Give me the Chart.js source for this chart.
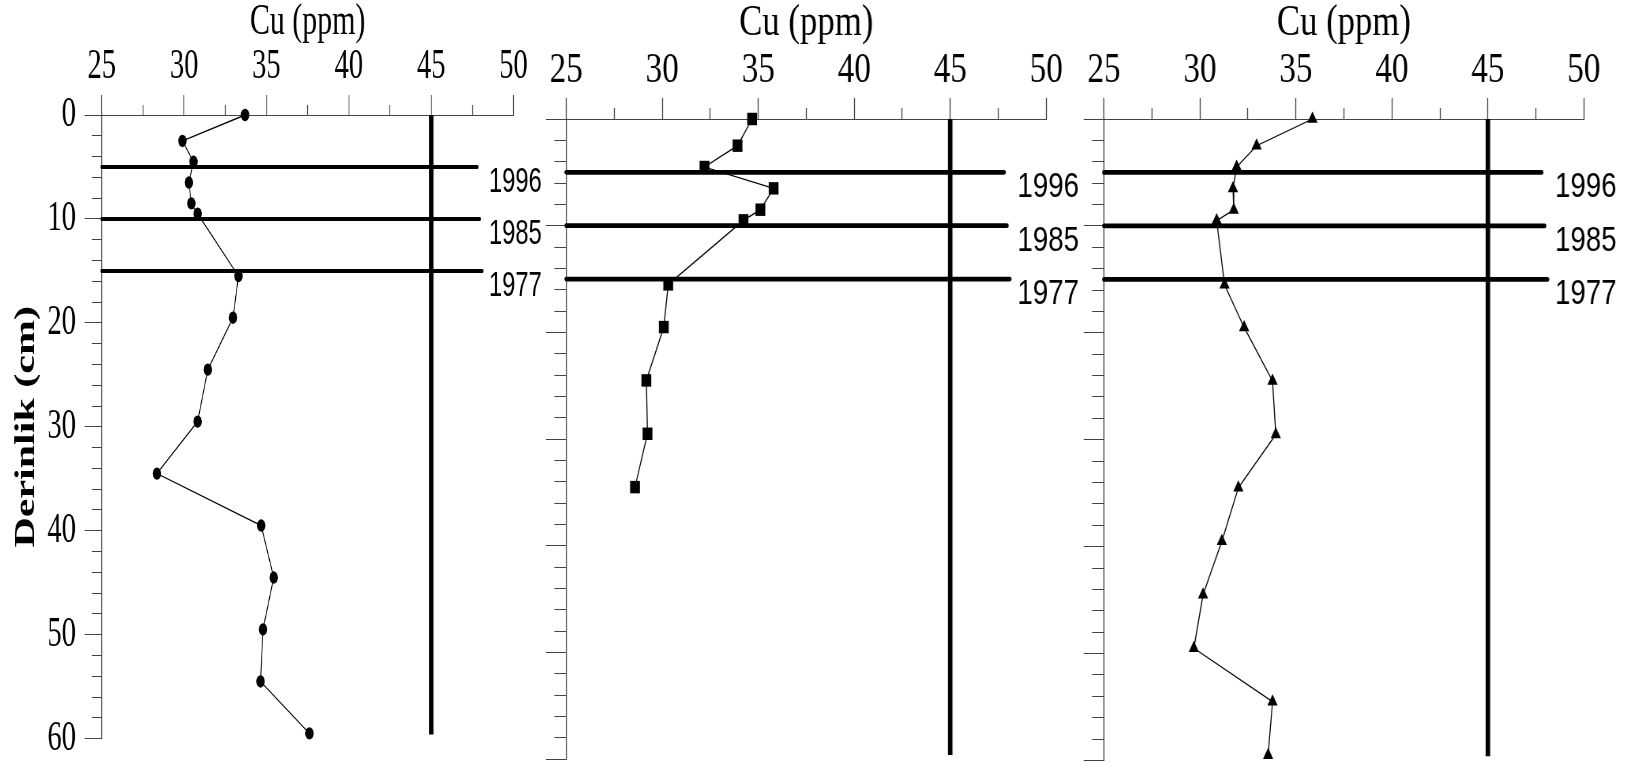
<!DOCTYPE html>
<html><head><meta charset="utf-8">
<script src="https://cdn.jsdelivr.net/npm/chart.js@4"></script>
<style>
html,body{margin:0;padding:0;background:#fff;width:1631px;height:768px;overflow:hidden;position:relative}
canvas{position:absolute;top:0}
</style></head><body>
<canvas id="c1"></canvas><canvas id="c2"></canvas><canvas id="c3"></canvas>
<script>
// ---------- data ----------
const cuTitle = 'Cu (ppm)';
const depthTitle = 'Derinlik (cm)';
const cuTickLabels = [25, 30, 35, 40, 45, 50];
const depthTickLabels = [0, 10, 20, 30, 40, 50, 60];

const depth1 = [0, 2.5, 4.5, 6.5, 8.5, 9.5, 15.5, 19.5, 24.5, 29.5, 34.5, 39.5, 44.5, 49.5, 54.5, 59.5];
const cu1    = [33.7, 29.9, 30.57, 30.29, 30.44, 30.82, 33.3, 32.97, 31.44, 30.82, 28.35, 34.68, 35.44, 34.79, 34.64, 37.61];

const depth2 = [0, 2.5, 4.5, 6.5, 8.5, 9.5, 15.5, 19.5, 24.5, 29.5, 34.5];
const cu2    = [34.68, 33.92, 32.2, 35.8, 35.11, 34.23, 30.31, 30.08, 29.17, 29.23, 28.58];

const depth3 = [0, 2.5, 4.5, 6.5, 8.5, 9.5, 15.5, 19.5, 24.5, 29.5, 34.5, 39.5, 44.5, 49.5, 54.5, 59.5];
const cu3    = [35.86, 32.95, 31.91, 31.72, 31.76, 30.87, 31.28, 32.3, 33.78, 33.95, 32.0, 31.14, 30.16, 29.68, 33.78, 33.55];

const yearLabels = ['1996', '1985', '1977'];
const yearDepths = [5, 10, 15];
const yearLineEnds = [47.8, 47.95, 48.1];
const yearLabelCu = 48.5;
const limitCu = 45;
const limitDepthEnd = 59.6;

// ---------- plugin for the year labels ----------
const yearLabelPlugin = {
  id: 'yearLabels',
  afterDatasetsDraw(chart) {
    const {ctx, scales: {x, y}} = chart;
    ctx.save();
    ctx.font = '35px "Liberation Sans", Arial, sans-serif';
    ctx.fillStyle = '#000';
    ctx.textAlign = 'left';
    ctx.textBaseline = 'alphabetic';
    yearLabels.forEach((t, i) => {
      ctx.fillText(t, x.getPixelForValue(yearLabelCu), y.getPixelForValue(yearDepths[i]) + 25);
    });
    ctx.restore();
  }
};

const SERIF = '"Liberation Serif", "Times New Roman", serif';

function makePanel(id, p) {
  const cv = document.getElementById(id);
  cv.width = p.wi; cv.height = 768;
  cv.style.left = p.left + 'px';
  cv.style.width = (p.wi * p.sx) + 'px';
  cv.style.height = '768px';

  const datasets = [{
    data: p.cu.map((v, i) => ({x: v, y: p.depth[i]})),
    showLine: true, borderColor: '#000', borderWidth: 1.3,
    pointStyle: p.ps, pointRadius: p.pr, pointBackgroundColor: '#000',
    pointBorderColor: '#000', pointBorderWidth: 0, clip: false, order: 0
  }, {
    data: [{x: limitCu, y: 0}, {x: limitCu, y: limitDepthEnd}],
    showLine: true, borderColor: '#000', borderWidth: p.vW, borderCapStyle: 'butt',
    pointRadius: 0, clip: false, order: 1
  }];
  yearDepths.forEach((d, i) => {
    datasets.push({
      data: [{x: 25, y: d}, {x: yearLineEnds[i], y: d}],
      showLine: true, borderColor: '#000', borderWidth: p.hW, borderCapStyle: 'round',
      pointRadius: 0, clip: false, order: 2
    });
  });

  new Chart(cv, {
    type: 'scatter',
    data: {datasets},
    plugins: [yearLabelPlugin],
    options: {
      responsive: false, maintainAspectRatio: false, animation: false, devicePixelRatio: 1,
      layout: {padding: {left: 0, top: 0, right: p.padR, bottom: p.padB}},
      plugins: {legend: {display: false}, tooltip: {enabled: false}},
      events: [],
      scales: {
        x: {
          type: 'linear', position: 'top', min: 25, max: 50,
          afterFit: s => { s.height = p.xH; },
          ticks: {
            stepSize: 2.5, maxTicksLimit: 100, autoSkip: false, maxRotation: 0, minRotation: 0,
            padding: p.xPad, color: '#000',
            font: {family: SERIF, size: 42, lineHeight: 1},
            callback: v => cuTickLabels.includes(v) ? String(v) : ''
          },
          grid: {
            drawOnChartArea: false, drawTicks: true, tickLength: p.xTl, tickWidth: 1.3, tickColor: '#444',
            tickBorderDash: c => (c.tick && c.tick.value % 5 !== 0) ? [0, p.xTl - p.xTlMinor, 1000, 0] : []
          },
          border: {display: true, color: '#444', width: 1},
          title: {
            display: true, text: cuTitle, color: '#000',
            font: {family: SERIF, size: 44, lineHeight: 1},
            padding: {top: p.titlePad, bottom: 0}
          }
        },
        y: {
          type: 'linear', position: 'left', min: 0, max: 60, reverse: true,
          afterFit: s => { s.width = p.yW; },
          ticks: {
            stepSize: 2, maxTicksLimit: 100, autoSkip: false,
            padding: p.yLabels ? 13 : 0, color: '#000',
            font: p.yLabels ? {family: SERIF, size: 42, lineHeight: 0.78} : {family: SERIF, size: 1, lineHeight: 1},
            callback: v => (p.yLabels && depthTickLabels.includes(v)) ? String(v) : ''
          },
          grid: {
            drawOnChartArea: false, drawTicks: true, tickLength: p.yTl, tickWidth: 1, tickColor: '#444',
            tickBorderDash: c => (c.tick && c.tick.value % 10 !== 0) ? [0, p.yTl - p.yTlMinor, 1000, 0] : []
          },
          border: {display: true, color: '#444', width: 1.3},
          title: {
            display: p.yLabels, text: depthTitle, color: '#000',
            font: {family: SERIF, size: 42, weight: 'bold', lineHeight: 1},
            padding: {top: 18, bottom: 0}
          }
        }
      }
    }
  });
}

makePanel('c1', {
  left: 0, sx: 0.68, wi: 824, padR: 68.4, padB: 29, xH: 115, yW: 149.7,
  xPad: 7.5, xTl: 20, xTlMinor: 10, yTl: 25, yTlMinor: 14.7, titlePad: 0,
  cu: cu1, depth: depth1, ps: 'circle', pr: 6.2, vW: 6.6, hW: 4, yLabels: true
});
makePanel('c2', {
  left: 520, sx: 0.79, wi: 728, padR: 61.8, padB: 5.5, xH: 119, yW: 58.6,
  xPad: 6.5, xTl: 21, xTlMinor: 11, yTl: 25.7, yTlMinor: 15.2, titlePad: 1.3,
  cu: cu2, depth: depth2, ps: 'rect', pr: 8.8, vW: 5.7, hW: 4.8, yLabels: false
});
makePanel('c3', {
  left: 1060, sx: 0.79, wi: 723, padR: 59.7, padB: 5, xH: 119, yW: 55.7,
  xPad: 6.5, xTl: 21, xTlMinor: 11, yTl: 25.7, yTlMinor: 15.2, titlePad: 1.3,
  cu: cu3, depth: depth3, ps: 'triangle', pr: 7.5, vW: 5.7, hW: 4.8, yLabels: false
});
</script>
</body></html>
